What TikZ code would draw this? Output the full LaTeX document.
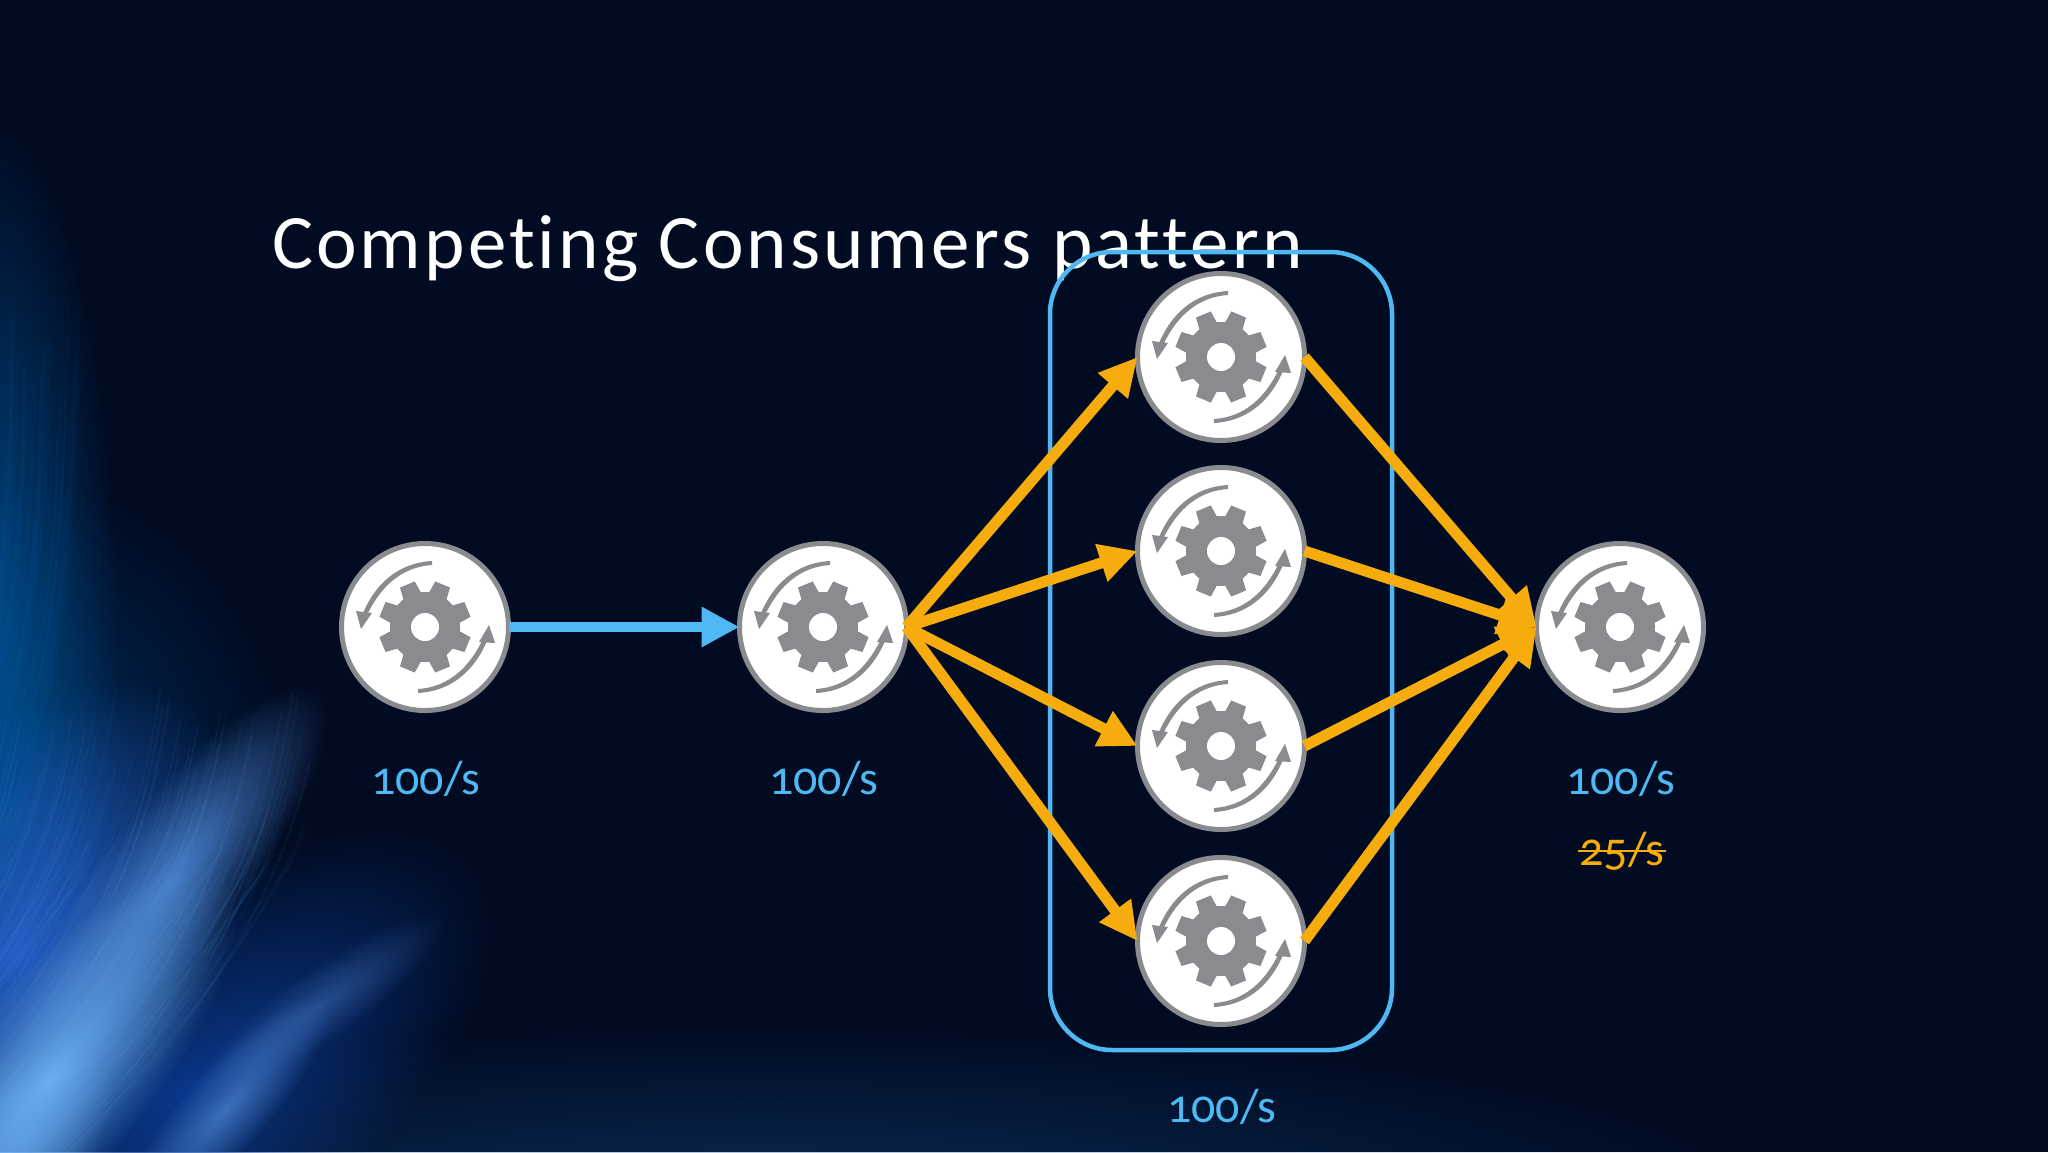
\documentclass[tikz,border=0pt]{standalone}
\usepackage{fontspec}
\usetikzlibrary{arrows.meta,shapes.geometric,fadings}
\setmainfont[Numbers=OldStyle]{Carlito}
\newfontfamily\titlefont[LetterSpace=4,Ligatures=NoCommon]{Carlito}
\definecolor{navy}{HTML}{010B22}
\definecolor{skyb}{HTML}{4FB8F2}
\definecolor{amber}{HTML}{F7AC0E}
\definecolor{gearg}{HTML}{898B8E}
\definecolor{tealb}{HTML}{00599F}
\definecolor{lightb}{HTML}{6AAEF2}
\definecolor{royalb}{HTML}{2A64D6}
\definecolor{deepb}{HTML}{0A3A90}
\definecolor{glowb}{HTML}{15508F}
\definecolor{ridgeb}{HTML}{4A80CC}
\tikzfading[name=softglow,inner color=transparent!0,outer color=transparent!100]
\newcommand{\glowblob}[7]{% colour, opacity, cx, cy, angle, a, b
  \fill[#1,opacity=#2,path fading=softglow,transform canvas={shift={(#3,#4)},rotate=#5}] (0,0) ellipse [x radius=#6,y radius=#7];
}
\tikzset{
  x=1pt,y=-1pt,
  gearnode/.style={circle,draw=gearg,fill=white,line width=5pt,minimum size=167pt,inner sep=0pt,outer sep=0pt},
  ratelabel/.style={text=skyb,font=\fontsize{48}{54}\selectfont,inner sep=0pt},
  amberlabel/.style={text=amber,font=\fontsize{48}{54}\selectfont,inner sep=0pt},
  blueflow/.style={draw=skyb,line width=10pt,-{Triangle[length=38pt,width=38pt]}},
  amberflow/.style={draw=amber,line width=11pt,-{Triangle[length=38pt,width=37pt]}},
  poolbox/.style={draw=skyb,line width=4.5pt,rounded corners=62pt,inner sep=0pt,outer sep=0pt,minimum width=342pt,minimum height=798pt},
  gearicon/.pic={
    \fill[gearg] (0,0) circle (35);
    \foreach \a in {22.5,67.5,...,337.5}
      \fill[gearg,rotate=\a] (28,-10) -- (46,-8) -- (46,8) -- (28,10) -- cycle;
    \fill[white] (0,0) circle (14);
    \fill[gearg] (7,-66) .. controls (-28,-64) and (-50,-42) .. (-62,-14)
      -- (-57,-14) .. controls (-44,-40) and (-24,-60) .. (7,-62) -- cycle;
    \fill[gearg] (-69,-16) -- (-53,-14) -- (-64,2) -- cycle;
    \fill[gearg] (-7,66) .. controls (28,64) and (50,42) .. (62,14)
      -- (57,14) .. controls (44,40) and (24,60) .. (-7,62) -- cycle;
    \fill[gearg] (70,16) -- (54,15) -- (64,-2) -- cycle;
  }
}
\begin{document}
\begin{tikzpicture}
\useasboundingbox (0,0) rectangle (2048,1152);
\fill[navy] (0,0) rectangle (2048,1152);
\begin{scope}
\clip (0,0) rectangle (2048,1152);
% bottom glow
\glowblob{glowb}{.5}{760}{1215}{0}{1050}{190}
% left field
\glowblob{tealb}{.8}{-10}{660}{0}{130}{540}
\glowblob{tealb}{.5}{-10}{800}{-10}{300}{330}
% deep and royal zones
\glowblob{deepb}{.95}{190}{1090}{38}{360}{170}
\glowblob{royalb}{.85}{20}{950}{58}{300}{170}
% first ridge
\glowblob{ridgeb}{.95}{170}{880}{52}{240}{70}
\glowblob{lightb}{1}{50}{1080}{50}{270}{95}
\glowblob{lightb}{.6}{20}{1140}{50}{120}{70}
% second ridge
\glowblob{ridgeb}{.8}{225}{1110}{48}{150}{42}
\glowblob{ridgeb}{.45}{320}{1005}{35}{150}{36}
% streaks
\pgfmathsetseed{7}
\foreach \i in {1,...,170}{
  \pgfmathsetmacro\st{-350+rnd*410}
  \pgfmathsetmacro\en{880-rnd*200}
  \pgfmathsetmacro\lw{.5+rnd*2}
  \draw[lightb,opacity=.05,line width=\lw pt] (\st,1165) .. controls (\st+130,1040) and (\st+220,900) .. (\st+250,\en);
}
\foreach \i in {1,...,80}{
  \pgfmathsetmacro\st{rnd*80}
  \pgfmathsetmacro\en{300+rnd*350}
  \pgfmathsetmacro\lw{.8+rnd*3}
  \draw[tealb,opacity=.06,line width=\lw pt] (\st,\en) .. controls (\st-3,640) and (\st-40,820) .. (\st-170,1090);
}
\end{scope}
% title
\node[anchor=base west,text=white,inner sep=0pt,font=\fontsize{77}{80}\selectfont\titlefont] (title) at (272,268) {Competing Consumers pattern};
% pool
\node[poolbox] (pool) at (1221,651) {};
% services
\node[gearnode] (a) at (425,627) {};
\node[gearnode] (b) at (823,627) {};
\node[gearnode] (m1) at (1221,357) {};
\node[gearnode] (m2) at (1221,551) {};
\node[gearnode] (m3) at (1221,746) {};
\node[gearnode] (m4) at (1221,941) {};
\node[gearnode] (r) at (1620,627) {};
\foreach \n in {a,b,m1,m2,m3,m4,r} \pic at (\n) {gearicon};
% connectors
\draw[blueflow] (a.east) -- (b.west);
\foreach \n in {m1,m2,m3,m4}{
  \draw[amberflow] (b.east) -- (\n.west);
  \draw[amberflow] (\n.east) -- (r.west);
}
% labels
\node[ratelabel] (la) at (426,779) {100/s};
\node[ratelabel] (lb) at (824,779) {100/s};
\node[ratelabel] (lr) at (1621,779) {100/s};
\node[ratelabel] (lp) at (1222,1107) {100/s};
\node[amberlabel] (ls) at (1622,851) {25/s};
\draw[amber,line width=2.5pt] ([xshift=-1pt]ls.west) -- ([xshift=1pt]ls.east);
\end{tikzpicture}
\end{document}
